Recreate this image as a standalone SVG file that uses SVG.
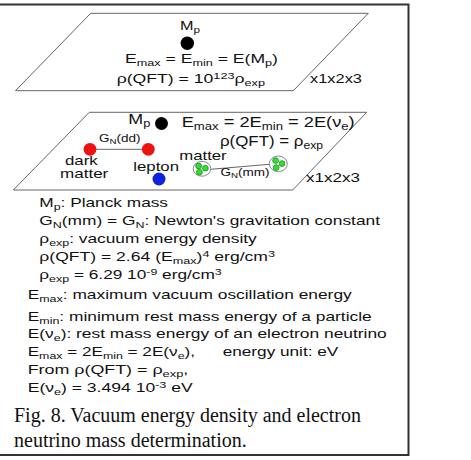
<svg xmlns="http://www.w3.org/2000/svg" width="471" height="460" viewBox="0 0 471 460">
<style>
text{font-family:"Liberation Sans",Arial,sans-serif;fill:#111}
.t13{font-size:13px}
.t135{font-size:13.5px}
.t14{font-size:14px}
.t10{font-size:10px}
.cap{font-family:"Liberation Serif","Times New Roman",serif;font-size:20px}
.sub{font-size:72%;baseline-shift:-2.6px}
.sup{font-size:72%;baseline-shift:4px}
.t10 .sub{baseline-shift:-1.5px}
.plane{fill:none;stroke:#666;stroke-width:1}
.link{stroke:#666;stroke-width:1;fill:none}
.shell{fill:#fff;stroke:#888;stroke-width:1}
.g{fill:#33dd33;stroke:#1f8f1f;stroke-width:0.8}
</style>
<rect x="-3" y="4.5" width="411.5" height="450.5" fill="#fff" stroke="#333" stroke-width="2"/>

<g id="plane-top">
<polygon class="plane" points="90.7,13.3 368.3,13.3 293.3,90.7 15.5,90.7"/>
<text class="t13" x="310" y="82.7" textLength="52" lengthAdjust="spacingAndGlyphs">x1x2x3</text>
</g>
<g id="planck-top">
<text class="t135" x="180" y="30" textLength="20" lengthAdjust="spacingAndGlyphs">M<tspan class="sub">p</tspan></text>
<circle cx="187.3" cy="43.3" r="6.7" fill="#000"/>
<text class="t135" x="125" y="63.3" textLength="153" lengthAdjust="spacingAndGlyphs">E<tspan class="sub">max</tspan> = E<tspan class="sub">min</tspan> = E(M<tspan class="sub">p</tspan>)</text>
<text class="t135" x="116.7" y="83" textLength="148.3" lengthAdjust="spacingAndGlyphs">ρ(QFT) = 10<tspan class="sup">123</tspan>ρ<tspan class="sub">exp</tspan></text>
</g>

<g id="plane-mid">
<polygon class="plane" points="89.3,112.3 366.7,112.3 292.7,190 13.3,190"/>
<text class="t13" x="306" y="181.7" textLength="54" lengthAdjust="spacingAndGlyphs">x1x2x3</text>
<text class="t14" x="181.7" y="127.3" textLength="173" lengthAdjust="spacingAndGlyphs">E<tspan class="sub">max</tspan> = 2E<tspan class="sub">min</tspan> = 2E(ν<tspan class="sub">e</tspan>)</text>
<text class="t14" x="220" y="146" textLength="103" lengthAdjust="spacingAndGlyphs">ρ(QFT) = ρ<tspan class="sub">exp</tspan></text>
</g>

<g id="connectors">
<line class="link" x1="90" y1="149.3" x2="148.3" y2="149.3"/>
<line class="link" x1="210.7" y1="169.3" x2="269.3" y2="164.3"/>
<text class="t10" x="99" y="141.5" textLength="41.5" lengthAdjust="spacingAndGlyphs">G<tspan class="sub">N</tspan>(dd)</text>
<text class="t10" x="220.5" y="176" textLength="49" lengthAdjust="spacingAndGlyphs">G<tspan class="sub">N</tspan>(mm)</text>
</g>

<g id="planck-mid">
<text class="t14" x="128.3" y="124" textLength="22" lengthAdjust="spacingAndGlyphs">M<tspan class="sub">p</tspan></text>
<circle cx="161.5" cy="123.5" r="6.5" fill="#000"/>
</g>
<g id="dark-matter-1">
<circle cx="90" cy="149.3" r="6.4" fill="#ee1111"/>
<text class="t13" x="65" y="164.5" textLength="32.7" lengthAdjust="spacingAndGlyphs">dark</text>
<text class="t13" x="60" y="178.3" textLength="48.3" lengthAdjust="spacingAndGlyphs">matter</text>
</g>
<g id="dark-matter-2">
<circle cx="148.3" cy="149.3" r="6.4" fill="#ee1111"/>
</g>
<g id="lepton">
<text class="t13" x="133.3" y="170.7" textLength="45.7" lengthAdjust="spacingAndGlyphs">lepton</text>
<circle cx="159" cy="179" r="6.5" fill="#1122dd"/>
</g>
<g id="matter-1">
<text class="t13" x="179.3" y="160" textLength="47.4" lengthAdjust="spacingAndGlyphs">matter</text>
<ellipse class="shell" cx="202" cy="168.8" rx="8.8" ry="7.4"/>
<circle class="g" cx="198.6" cy="166" r="2.9"/>
<circle class="g" cx="205.4" cy="168.2" r="2.9"/>
<circle class="g" cx="199.4" cy="172.2" r="2.9"/>
</g>
<g id="matter-2">
<ellipse class="shell" cx="278.3" cy="163.8" rx="9" ry="7.8"/>
<circle class="g" cx="275.6" cy="160.6" r="2.9"/>
<circle class="g" cx="282" cy="163.6" r="2.9"/>
<circle class="g" cx="276.2" cy="167.6" r="2.9"/>
</g>

<g id="legend">
<text class="t13" x="39.3" y="207" textLength="128.7" lengthAdjust="spacingAndGlyphs">M<tspan class="sub">p</tspan>: Planck mass</text>
<text class="t13" x="39.3" y="225" textLength="340.7" lengthAdjust="spacingAndGlyphs">G<tspan class="sub">N</tspan>(mm) = G<tspan class="sub">N</tspan>: Newton's gravitation constant</text>
<text class="t13" x="39.3" y="242.7" textLength="217.4" lengthAdjust="spacingAndGlyphs">ρ<tspan class="sub">exp</tspan>: vacuum energy density</text>
<text class="t13" x="39.3" y="260.7" textLength="235.7" lengthAdjust="spacingAndGlyphs">ρ(QFT) = 2.64 (E<tspan class="sub">max</tspan>)<tspan class="sup">4</tspan> erg/cm<tspan class="sup">3</tspan></text>
<text class="t13" x="39.3" y="279" textLength="182.4" lengthAdjust="spacingAndGlyphs">ρ<tspan class="sub">exp</tspan> = 6.29 10<tspan class="sup">-9</tspan> erg/cm<tspan class="sup">3</tspan></text>
<text class="t13" x="27.7" y="299" textLength="324" lengthAdjust="spacingAndGlyphs">E<tspan class="sub">max</tspan>: maximum vacuum oscillation energy</text>
<text class="t13" x="27.7" y="320.7" textLength="344" lengthAdjust="spacingAndGlyphs">E<tspan class="sub">min</tspan>: minimum rest mass energy of a particle</text>
<text class="t13" x="27.7" y="338.3" textLength="359" lengthAdjust="spacingAndGlyphs">E(ν<tspan class="sub">e</tspan>): rest mass energy of an electron neutrino</text>
<text class="t13" x="27.7" y="356" textLength="167.3" lengthAdjust="spacingAndGlyphs">E<tspan class="sub">max</tspan> = 2E<tspan class="sub">min</tspan> = 2E(ν<tspan class="sub">e</tspan>),</text>
<text class="t13" x="222.7" y="356" textLength="115.6" lengthAdjust="spacingAndGlyphs">energy unit: eV</text>
<text class="t13" x="27.7" y="374" textLength="160.6" lengthAdjust="spacingAndGlyphs">From  ρ(QFT) = ρ<tspan class="sub">exp</tspan>,</text>
<text class="t13" x="27.7" y="391.7" textLength="165" lengthAdjust="spacingAndGlyphs">E(ν<tspan class="sub">e</tspan>) = 3.494 10<tspan class="sup">-3</tspan> eV</text>
</g>

<g id="caption">
<text class="cap" x="14" y="421.7">Fig. 8. Vacuum energy density and electron</text>
<text class="cap" x="14" y="446.7">neutrino mass determination.</text>
</g>
</svg>
